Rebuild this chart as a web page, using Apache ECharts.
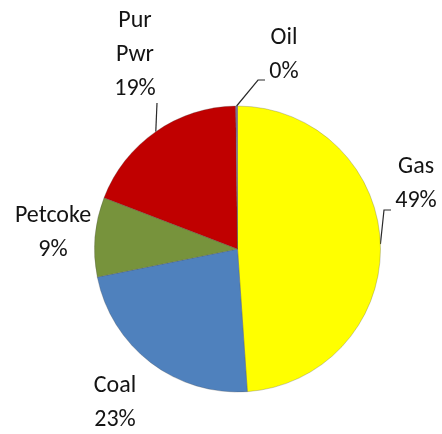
<!DOCTYPE html>
<html>
<head>
<meta charset="utf-8">
<script src="https://cdn.jsdelivr.net/npm/echarts@6/dist/echarts.min.js"></script>
<style>
  html, body { margin: 0; padding: 0; background: #ffffff; }
  #chart { width: 442px; height: 434px; }
</style>
</head>
<body>
<div id="chart"></div>
<script>
// Fuel mix shares (percent), clockwise from 12 o'clock
const categories = ['Gas', 'Coal', 'Petcoke', 'Pur Pwr', 'Oil'];
const shares = [49, 23, 9, 19, 0.2];
const colors = ['#FFFF00', '#4F81BD', '#77933C', '#C00000', '#7F6FA3'];

// Pie geometry (pixels)
const CX = 237.5, CY = 249, R = 143;

// Label placement: centre of each text block, plus optional leader line
// (elbow and end points) running from the slice's mid-arc to the text.
const labelPlacement = {
  'Gas':     { x: 416, y: 184, line: [[384, 210], [391, 210]] },
  'Coal':    { x: 115, y: 403, line: null },
  'Petcoke': { x: 53,  y: 233, line: null },
  'Pur Pwr': { x: 135, y: 55,  line: [[157, 103]] },
  'Oil':     { x: 284, y: 55,  line: [[258, 80], [265, 80]] }
};

const total = shares.reduce((a, b) => a + b, 0);
function midAngle(i) {
  let before = 0;
  for (let k = 0; k < i; k++) before += shares[k];
  return (before + shares[i] / 2) / total * 2 * Math.PI; // clockwise from top
}

const chart = echarts.init(document.getElementById('chart'), null, { renderer: 'canvas' });

chart.setOption({
  animation: false,
  series: [{
    type: 'pie',
    center: [CX, CY],
    radius: R,
    startAngle: 90,
    clockwise: true,
    avoidLabelOverlap: false,
    percentPrecision: 0,
    data: categories.map((name, i) => ({
      name: name,
      value: shares[i],
      itemStyle: { color: colors[i] },
      labelLine: { show: !!labelPlacement[name].line }
    })),
    itemStyle: {
      borderColor: 'rgba(70,70,70,0.45)',
      borderWidth: 0.6
    },
    label: {
      show: true,
      position: 'outside',
      formatter: p => p.name.replace(' ', '\n') + '\n' + p.percent + '%',
      fontFamily: 'Carlito, Lato, "Liberation Sans", sans-serif',
      fontSize: 24,
      lineHeight: 34,
      color: '#141414',
      align: 'center'
    },
    labelLine: {
      lineStyle: { color: '#2a2a2a', width: 1.2 },
      smooth: false
    },
    labelLayout: function (params) {
      const name = categories[params.dataIndex];
      const place = labelPlacement[name];
      const out = { x: place.x, y: place.y, align: 'center', verticalAlign: 'middle' };
      if (place.line) {
        const a = midAngle(params.dataIndex);
        const start = [CX + R * Math.sin(a), CY - R * Math.cos(a)];
        out.labelLinePoints = [start].concat(place.line);
      }
      return out;
    }
  }]
});
</script>
</body>
</html>
